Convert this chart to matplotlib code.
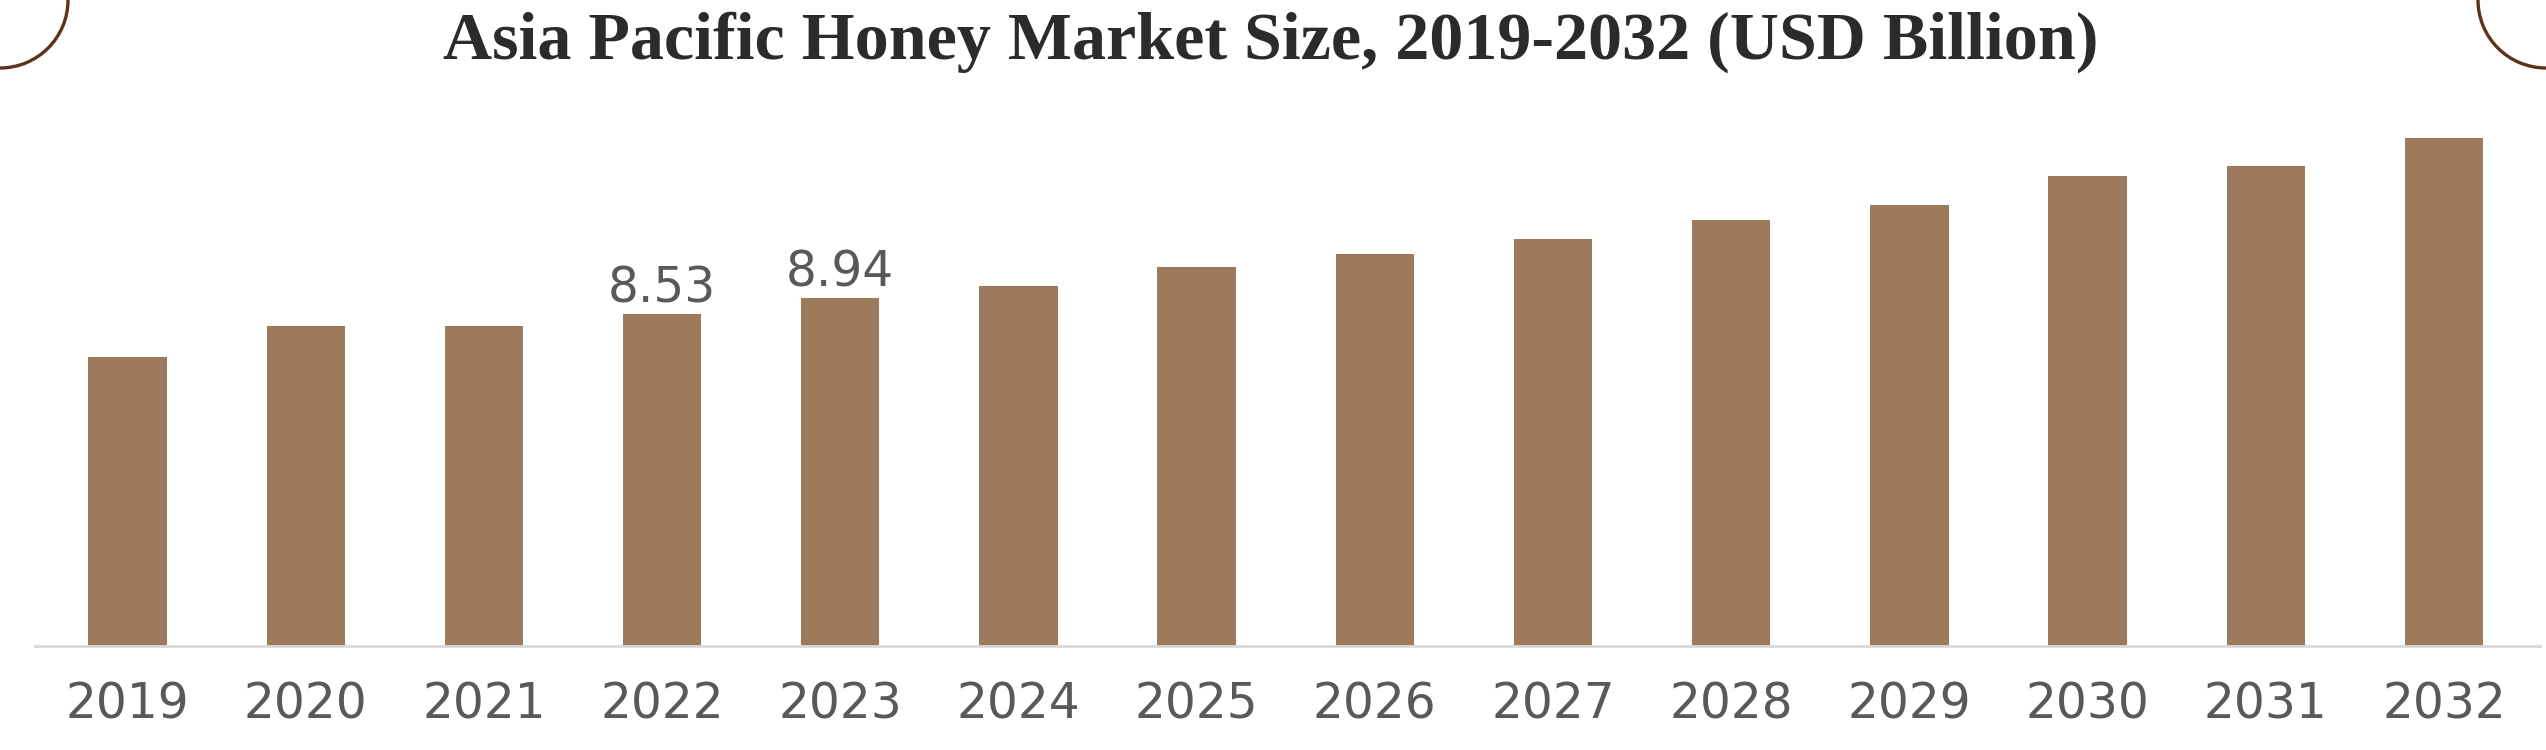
import matplotlib
matplotlib.use('Agg')
import matplotlib.pyplot as plt
from matplotlib.patches import Arc

# values (USD Billion)
years = ['2019', '2020', '2021', '2022', '2023', '2024', '2025',
         '2026', '2027', '2028', '2029', '2030', '2031', '2032']
market_size = [7.43, 8.23, 8.23, 8.53, 8.94, 9.25, 9.74,
               10.08, 10.46, 10.95, 11.34, 12.08, 12.34, 13.06]
labelled_years = ['2022', '2023']

title = 'Asia Pacific Honey Market Size, 2019-2032 (USD Billion)'
bar_colour = '#9d7a5c'
text_colour = '#595959'

fig = plt.figure(figsize=(25.46, 7.5), dpi=100)
ax = fig.add_axes([0.0137, 0.1387, 0.984, 0.7261])

xs = range(len(years))
bars = ax.bar(xs, market_size, width=0.44, color=bar_colour)

# only two bars carry a value label
for bar, yr, v in zip(bars, years, market_size):
    if yr in labelled_years:
        ax.annotate('%.2f' % v, (bar.get_x() + bar.get_width() / 2, v),
                    xytext=(0, 1), textcoords='offset points',
                    ha='center', va='bottom', fontsize=35,
                    color=text_colour, family='DejaVu Sans')

ax.set_xlim(-0.52, 13.54)
ax.set_ylim(0, 14)
ax.set_xticks(list(xs))
ax.set_xticklabels(years, fontsize=35, color=text_colour, family='DejaVu Sans')
ax.tick_params(axis='x', length=0, pad=25)
ax.set_yticks([])
for side in ['top', 'right', 'left']:
    ax.spines[side].set_visible(False)
ax.spines['bottom'].set_color('#d9d9d9')
ax.spines['bottom'].set_linewidth(2)

fig.text(0.499, 0.944, title, ha='center', va='center', fontsize=49,
         fontweight='bold', color='#2b2b2b', family='Liberation Serif')

# decorative corner arcs
for cx in [0.0, 25.46]:
    fig.add_artist(Arc((cx, 7.5), 1.36, 1.36, transform=fig.dpi_scale_trans,
                       color='#5c3319', lw=2.4))

fig.savefig('out.png', dpi=100)
